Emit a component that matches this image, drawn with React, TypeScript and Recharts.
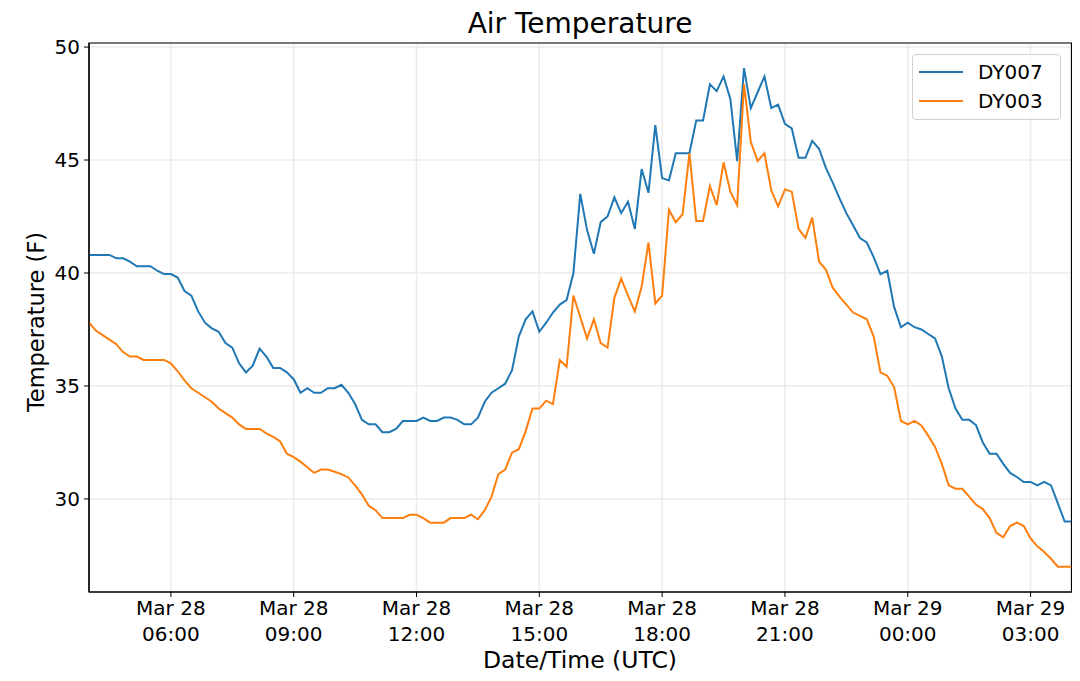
import React from "react";
import { LineChart, Line, XAxis, YAxis, CartesianGrid, ReferenceArea } from "recharts";

// 10-minute samples starting Mar 28 04:00 UTC
const STEP_MIN = 10;

const dy007 = [
  40.8, 40.8, 40.8, 40.8, 40.65, 40.65, 40.5, 40.3, 40.3, 40.3,
  40.1, 39.95, 39.95, 39.8, 39.2, 39.0, 38.3, 37.8, 37.55, 37.4,
  36.9, 36.7, 36.0, 35.6, 35.9, 36.65, 36.3, 35.8, 35.8, 35.6,
  35.3, 34.7, 34.9, 34.7, 34.7, 34.9, 34.9, 35.05, 34.7, 34.2,
  33.5, 33.3, 33.3, 32.95, 32.95, 33.1, 33.45, 33.45, 33.45, 33.6,
  33.45, 33.45, 33.6, 33.6, 33.5, 33.3, 33.3, 33.6, 34.3, 34.7,
  34.9, 35.1, 35.7, 37.2, 37.95, 38.3, 37.4, 37.8, 38.25, 38.6,
  38.8, 40.0, 43.5, 41.9, 40.85, 42.25, 42.5, 43.35, 42.65, 43.15,
  41.95, 44.6, 43.55, 46.55, 44.2, 44.1, 45.3, 45.3, 45.3, 46.75,
  46.75, 48.35, 48.05, 48.7, 47.7, 44.95, 49.07, 47.3, 48.0, 48.7,
  47.3, 47.45, 46.6, 46.4, 45.1, 45.1, 45.85, 45.5, 44.65, 44.0,
  43.3, 42.65, 42.1, 41.55, 41.35, 40.7, 39.95, 40.1, 38.5, 37.6,
  37.8, 37.6, 37.5, 37.3, 37.1, 36.3, 34.9, 34.0, 33.5, 33.5,
  33.27, 32.5, 32.0, 32.0, 31.55, 31.15, 30.97, 30.75, 30.75, 30.6,
  30.75, 30.6, 29.8, 29.0, 29.0,
];

const dy003 = [
  37.8, 37.45, 37.25, 37.05, 36.85, 36.5, 36.3, 36.3, 36.15, 36.15,
  36.15, 36.15, 36.0, 35.65, 35.25, 34.9, 34.7, 34.5, 34.3, 34.0,
  33.8, 33.6, 33.3, 33.1, 33.1, 33.1, 32.9, 32.75, 32.55, 32.0,
  31.85, 31.65, 31.4, 31.15, 31.3, 31.3, 31.2, 31.1, 30.95, 30.6,
  30.2, 29.7, 29.5, 29.15, 29.15, 29.15, 29.15, 29.3, 29.3, 29.15,
  28.95, 28.95, 28.95, 29.15, 29.15, 29.15, 29.3, 29.1, 29.5, 30.1,
  31.1, 31.3, 32.05, 32.2, 33.0, 34.0, 34.0, 34.35, 34.2, 36.15,
  35.85, 39.0, 38.05, 37.1, 37.95, 36.9, 36.7, 38.9, 39.75, 39.0,
  38.3, 39.4, 41.35, 38.65, 39.0, 42.8, 42.25, 42.6, 45.3, 42.3,
  42.3, 43.85, 43.0, 44.9, 43.6, 43.0, 48.35, 45.8, 44.95, 45.3,
  43.65, 42.95, 43.7, 43.6, 41.95, 41.55, 42.45, 40.5, 40.15, 39.35,
  38.95, 38.6, 38.25, 38.1, 37.95, 37.2, 35.6, 35.45, 34.95, 33.45,
  33.3, 33.45, 33.25, 32.8, 32.3, 31.55, 30.6, 30.45, 30.45, 30.1,
  29.75, 29.55, 29.15, 28.5, 28.3, 28.8, 28.95, 28.8, 28.25, 27.9,
  27.65, 27.35, 27.0, 27.0, 27.0,
];

// minutes after Mar 28 04:00
const xTicks = [120, 300, 480, 660, 840, 1020, 1200, 1380];
const xTickDates = ["Mar 28", "Mar 28", "Mar 28", "Mar 28", "Mar 28", "Mar 28", "Mar 29", "Mar 29"];
const xTickTimes = ["06:00", "09:00", "12:00", "15:00", "18:00", "21:00", "00:00", "03:00"];
const yTicks = [30, 35, 40, 45, 50];

const X_DOMAIN: [number, number] = [0, 1440];
const Y_DOMAIN: [number, number] = [25.88, 50.18];

const BLUE = "#1f77b4";
const ORANGE = "#ff7f0e";
const FONT = "'DejaVu Sans', sans-serif";

const data = dy007.map((v, i) => ({ t: i * STEP_MIN, a: v, b: dy003[i] }));

function TimeTick(props: any) {
  const { x, y, payload } = props;
  const idx = xTicks.indexOf(payload.value);
  return (
    <text x={x} y={y} textAnchor="middle" fill="#000" fontSize={20} fontFamily={FONT}>
      <tspan x={x} dy={16}>{xTickDates[idx]}</tspan>
      <tspan x={x} dy={26}>{xTickTimes[idx]}</tspan>
    </text>
  );
}

export default function App() {
  return (
    <div style={{ position: "relative", width: 1072, height: 665, fontFamily: FONT, background: "#fff" }}>
      <div style={{ position: "absolute", left: 0, width: 1144, top: -1, textAlign: "center", fontSize: 28, color: "#000" }}>
        Air Temperature
      </div>
      <LineChart width={1072} height={665} data={data} margin={{ top: 35, right: 8.5, left: 0, bottom: 21 }}>
        <CartesianGrid stroke="#ebebeb" strokeWidth={1.5} ticks={yTicks} />
        <XAxis
          dataKey="t"
          type="number"
          domain={X_DOMAIN}
          ticks={xTicks}
          allowDataOverflow
          height={60}
          tickSize={5}
          tickMargin={2}
          tick={<TimeTick />}
          axisLine={{ stroke: "#000", strokeWidth: 1.2 }}
          tickLine={{ stroke: "#000" }}
          interval={0}
        />
        <YAxis
          type="number"
          domain={Y_DOMAIN}
          ticks={yTicks}
          allowDataOverflow
          width={81}
          tickSize={5}
          tickMargin={4}
          tick={{ fill: "#000", fontSize: 20, fontFamily: FONT }}
          axisLine={{ stroke: "#000", strokeWidth: 1.2 }}
          tickLine={{ stroke: "#000" }}
          interval={0}
        />
        <ReferenceArea
          x1={X_DOMAIN[0]}
          x2={X_DOMAIN[1]}
          y1={Y_DOMAIN[0]}
          y2={Y_DOMAIN[1]}
          fill="none"
          fillOpacity={0}
          stroke="#000"
          strokeWidth={1.2}
          ifOverflow="extendDomain"
        />
        <Line type="linear" dataKey="a" stroke={BLUE} strokeWidth={2} dot={false} isAnimationActive={false} />
        <Line type="linear" dataKey="b" stroke={ORANGE} strokeWidth={2} dot={false} isAnimationActive={false} />
      </LineChart>
      <div
        style={{
          position: "absolute",
          left: -8,
          top: 314,
          width: 72,
          height: 0,
          display: "flex",
          alignItems: "center",
          justifyContent: "center",
        }}
      >
        <div style={{ transform: "rotate(-90deg)", whiteSpace: "nowrap", fontSize: 22.5, color: "#000" }}>
          Temperature (F)
        </div>
      </div>
      <div style={{ position: "absolute", left: 0, width: 1144, top: 638, textAlign: "center", fontSize: 23.5, color: "#000" }}>
        Date/Time (UTC)
      </div>
      <div
        style={{
          position: "absolute",
          left: 904,
          top: 46,
          width: 149,
          height: 66,
          boxSizing: "border-box",
          border: "1px solid #d0d0d0",
          borderRadius: 4,
          background: "rgba(255,255,255,0.8)",
          fontSize: 20,
          color: "#000",
        }}
      >
        {[
          { name: "DY007", color: BLUE, top: 17 },
          { name: "DY003", color: ORANGE, top: 46 },
        ].map((e) => (
          <div key={e.name} style={{ position: "absolute", left: 6, top: e.top - 12, height: 24, display: "flex", alignItems: "center" }}>
            <div style={{ width: 44, height: 2, background: e.color }} />
            <span style={{ marginLeft: 15, lineHeight: "24px" }}>{e.name}</span>
          </div>
        ))}
      </div>
    </div>
  );
}
